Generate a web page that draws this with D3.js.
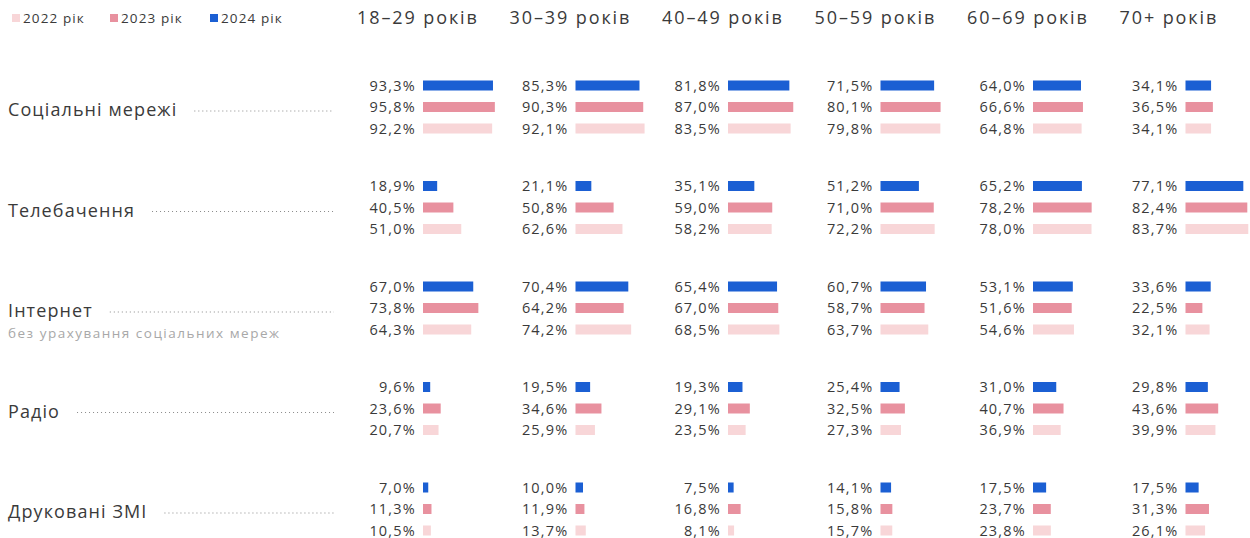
<!DOCTYPE html>
<html>
<head>
<meta charset="utf-8">
<script src="https://cdn.jsdelivr.net/npm/d3@7"></script>
<style>
  body { margin: 0; background: #fff; }
  svg { display: block; }
</style>
</head>
<body>
<script>
var w = 1250,
    h = 538;

var ageGroups = ["18–29 років", "30–39 років", "40–49 років", "50–59 років", "60–69 років", "70+ років"];
var categories = ["Соціальні мережі", "Телебачення", "Інтернет", "Радіо", "Друковані ЗМІ"];
var years = ["2024 рік", "2023 рік", "2022 рік"];
var legendYears = ["2022 рік", "2023 рік", "2024 рік"];

// one row per category, one value per age group
var values2024 = [
  [93.3, 85.3, 81.8, 71.5, 64.0, 34.1],
  [18.9, 21.1, 35.1, 51.2, 65.2, 77.1],
  [67.0, 70.4, 65.4, 60.7, 53.1, 33.6],
  [9.6, 19.5, 19.3, 25.4, 31.0, 29.8],
  [7.0, 10.0, 7.5, 14.1, 17.5, 17.5]
];
var values2023 = [
  [95.8, 90.3, 87.0, 80.1, 66.6, 36.5],
  [40.5, 50.8, 59.0, 71.0, 78.2, 82.4],
  [73.8, 64.2, 67.0, 58.7, 51.6, 22.5],
  [23.6, 34.6, 29.1, 32.5, 40.7, 43.6],
  [11.3, 11.9, 16.8, 15.8, 23.7, 31.3]
];
var values2022 = [
  [92.2, 92.1, 83.5, 79.8, 64.8, 34.1],
  [51.0, 62.6, 58.2, 72.2, 78.0, 83.7],
  [64.3, 74.2, 68.5, 63.7, 54.6, 32.1],
  [20.7, 25.9, 23.5, 27.3, 36.9, 39.9],
  [10.5, 13.7, 8.1, 15.7, 23.8, 26.1]
];

var colors = {"2024 рік": "#1b5fd3", "2023 рік": "#e8919f", "2022 рік": "#f8d6d8"};
var font = "'Open Sans', 'Noto Sans', sans-serif";
var textCol = "#3a3a3a";

var svg = d3.select("body").append("svg")
  .attr("width", w)
  .attr("height", h);

// scales
var xCol = d3.scalePoint().domain(ageGroups).range([423, 1185.5]);
var yGroup = d3.scalePoint().domain(categories).range([107, 509]);
var yRow = d3.scalePoint().domain(years).range([-21.5, 21.5]);
var xBar = d3.scaleLinear().domain([0, 100]).range([0, 75]);

var fmt = function(v) { return d3.format(".1f")(v).replace(".", ",") + "%"; };

// legend
var leg = svg.selectAll("g.legend").data(legendYears).enter().append("g")
  .attr("class", "legend")
  .attr("transform", function(d, i) { return "translate(" + [12, 110, 210][i] + ",18)"; });
leg.append("rect")
  .attr("x", 0).attr("y", -4).attr("width", 8).attr("height", 8)
  .attr("fill", function(d) { return colors[d]; });
leg.append("text")
  .attr("x", 11).attr("y", 5)
  .attr("font-family", font).attr("font-size", "13.5px").attr("letter-spacing", "1.1")
  .attr("fill", textCol)
  .text(function(d) { return d; });

// column headers
svg.selectAll("text.head").data(ageGroups).enter().append("text")
  .attr("class", "head")
  .attr("x", function(d) { return xCol(d) - 66; })
  .attr("y", 24)
  .attr("font-family", font).attr("font-size", "18px").attr("letter-spacing", "1.9")
  .attr("fill", textCol)
  .text(function(d) { return d; });

// row labels with dotted leaders
var lab = svg.selectAll("g.cat").data(categories).enter().append("g")
  .attr("class", "cat")
  .attr("transform", function(d) { return "translate(0," + yGroup(d) + ")"; });
lab.append("text")
  .attr("x", 8).attr("y", 9)
  .attr("font-family", font).attr("font-size", "18px").attr("letter-spacing", "1.1")
  .attr("fill", textCol)
  .text(function(d) { return d; })
  .each(function() {
    var bw = this.getBBox().width;
    d3.select(this.parentNode).append("line")
      .attr("x1", 8 + bw + 17).attr("x2", 334)
      .attr("y1", 4).attr("y2", 4)
      .attr("stroke", "#8a8a8a").attr("stroke-width", 1)
      .attr("stroke-dasharray", "1,3");
  });
lab.filter(function(d) { return d == "Інтернет"; }).append("text")
  .attr("x", 8).attr("y", 30)
  .attr("font-family", font).attr("font-size", "13.5px").attr("letter-spacing", "1.5")
  .attr("fill", "#a8a8a8")
  .text("без урахування соціальних мереж");

// flatten into cells
var series = {"2024 рік": values2024, "2023 рік": values2023, "2022 рік": values2022};
var cells = [];
categories.forEach(function(c, ci) {
  ageGroups.forEach(function(a, ai) {
    years.forEach(function(y) {
      cells.push({cat: c, age: a, year: y, value: series[y][ci][ai]});
    });
  });
});

svg.selectAll("rect.bar").data(cells).enter().append("rect")
  .attr("class", "bar")
  .attr("x", function(d) { return xCol(d.age); })
  .attr("y", function(d) { return yGroup(d.cat) + yRow(d.year) - 5; })
  .attr("width", function(d) { return xBar(d.value); })
  .attr("height", 10)
  .attr("fill", function(d) { return colors[d.year]; });

svg.selectAll("text.val").data(cells).enter().append("text")
  .attr("class", "val")
  .attr("x", function(d) { return xCol(d.age) - 7; })
  .attr("y", function(d) { return yGroup(d.cat) + yRow(d.year) + 5; })
  .attr("text-anchor", "end")
  .attr("font-family", font).attr("font-size", "14.5px").attr("letter-spacing", "1.2")
  .attr("fill", textCol)
  .text(function(d) { return fmt(d.value); });
</script>
</body>
</html>
